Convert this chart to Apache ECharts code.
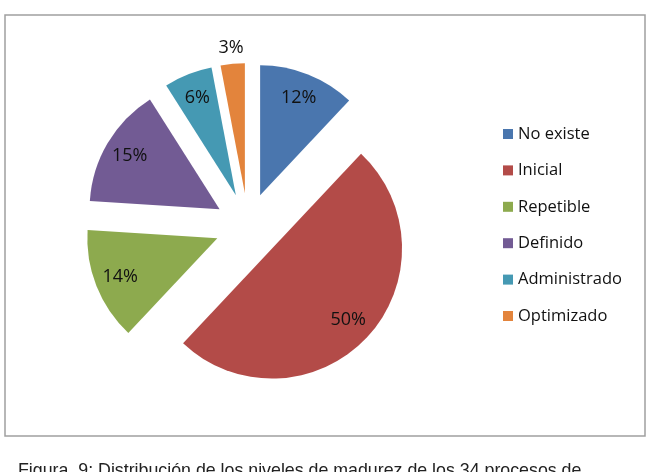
<!DOCTYPE html>
<html>
<head>
<meta charset="utf-8">
<script src="https://cdn.jsdelivr.net/npm/echarts@6/dist/echarts.min.js"></script>
<style>
html,body{margin:0;padding:0;background:#fff;}
#c{width:659px;height:472px;}
</style>
</head>
<body>
<div id="c"></div>
<script>
var categories = ['No existe', 'Inicial', 'Repetible', 'Definido', 'Administrado', 'Optimizado'];
var values = [12, 50, 14, 15, 6, 3];
var colors = ['#4A76AE', '#B34B48', '#8DAA4E', '#725B94', '#4599B3', '#E3843C'];
var caption = 'Figura. 9: Distribución de los niveles de madurez de los 34 procesos de';

var font = '"Open Sans", Lato, sans-serif';
var center = [248, 226];
var R = 130;
var offset = 33;

function mkData(showFn, colored) {
  return categories.map(function (c, i) {
    return {
      name: c,
      value: values[i],
      selected: true,
      itemStyle: colored ? { color: colors[i] } : { color: 'rgba(0,0,0,0)' },
      label: { show: showFn(i) }
    };
  });
}

var labelStyle = { position: 'inside', formatter: '{c}%', fontFamily: font, fontSize: 18, color: '#111' };

var chart = echarts.init(document.getElementById('c'));
chart.setOption({
  animation: false,
  color: colors,
  legend: {
    orient: 'vertical',
    left: 498,
    top: 119,
    icon: 'rect',
    itemWidth: 10,
    itemHeight: 10,
    itemGap: 16.4,
    data: categories,
    textStyle: { fontFamily: font, fontSize: 16.5, color: '#111', lineHeight: 20 }
  },
  graphic: [
    { type: 'rect', shape: { x: 5, y: 15, width: 640, height: 421 },
      style: { fill: 'none', stroke: '#a0a0a0', lineWidth: 1.5 }, silent: true },
    { type: 'text', left: 18, top: 462,
      style: { text: caption, font: '17.8px "Liberation Sans", Arial, sans-serif', fill: '#222' } }
  ],
  series: [
    {
      type: 'pie',
      center: center,
      radius: [0, R],
      startAngle: 90,
      clockwise: true,
      selectedMode: 'multiple',
      selectedOffset: offset,
      avoidLabelOverlap: false,
      label: { show: false },
      labelLine: { show: false },
      emphasis: { disabled: true },
      data: mkData(function () { return false; }, true)
    },
    {
      type: 'pie',
      center: center,
      radius: [73, R],
      startAngle: 90,
      clockwise: true,
      selectedMode: 'multiple',
      selectedOffset: offset,
      silent: true,
      avoidLabelOverlap: false,
      legendHoverLink: false,
      label: labelStyle,
      labelLine: { show: false },
      emphasis: { disabled: true },
      data: mkData(function (i) { return i !== 5; }, false)
    },
    {
      type: 'pie',
      center: center,
      radius: [130, 156],
      startAngle: 90,
      clockwise: true,
      selectedMode: 'multiple',
      selectedOffset: offset,
      silent: true,
      avoidLabelOverlap: false,
      legendHoverLink: false,
      label: labelStyle,
      labelLine: { show: false },
      emphasis: { disabled: true },
      data: mkData(function (i) { return i === 5; }, false)
    }
  ]
});
</script>
</body>
</html>
